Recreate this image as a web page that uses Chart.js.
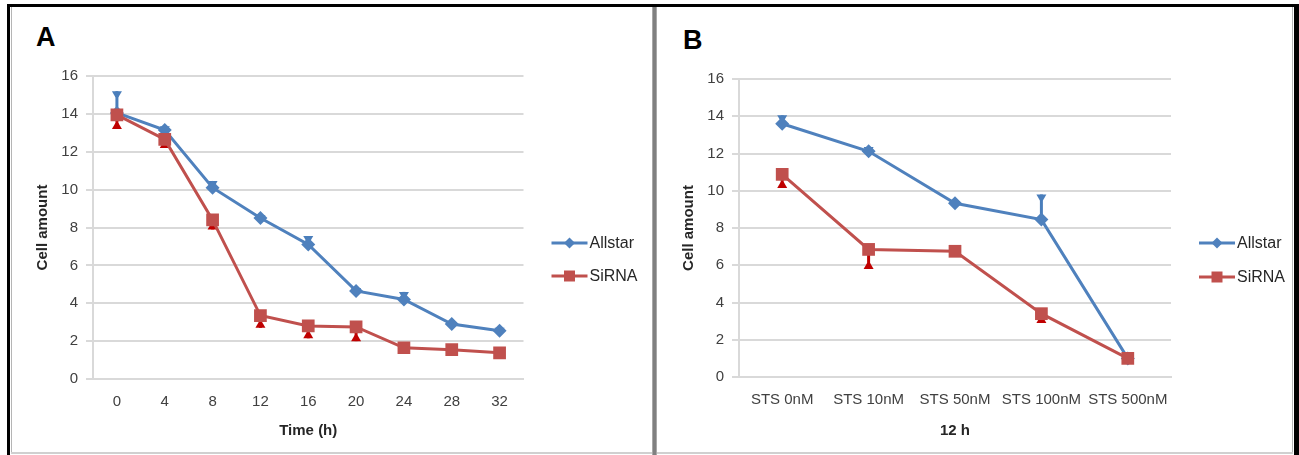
<!DOCTYPE html>
<html>
<head>
<meta charset="utf-8">
<title>Cell amount</title>
<script src="https://cdn.jsdelivr.net/npm/chart.js@4.4.1/dist/chart.umd.min.js"></script>
<style>
  body {
    margin: 0;
    width: 1299px;
    height: 455px;
    background: #fff;
    position: relative;
    overflow: hidden;
    font-family: "Liberation Sans", Arial, sans-serif;
  }
  .rule { position: absolute; }
  .tag {
    position: absolute;
    font-weight: bold;
    font-size: 27px;
    line-height: 1;
    color: #000;
  }
  canvas { position: absolute; }
</style>
</head>
<body>

<!-- frame -->
<div class="rule" style="left:7px;top:4px;width:1292px;height:3px;background:#000"></div>
<div class="rule" style="left:7px;top:4px;width:3px;height:451px;background:#000"></div>
<div class="rule" style="left:1294px;top:4px;width:5px;height:451px;background:#000"></div>
<div class="rule" style="left:11px;top:7px;width:1px;height:446px;background:#b5b5b5"></div>
<div class="rule" style="left:1292px;top:7px;width:1px;height:446px;background:#b5b5b5"></div>
<div class="rule" style="left:11px;top:452px;width:1282px;height:2px;background:#d0d0d0"></div>
<!-- divider between the two panels -->
<div class="rule" style="left:652px;top:7px;width:5px;height:448px;background:#a8a8a8"></div>
<div class="rule" style="left:653px;top:7px;width:3px;height:448px;background:#808080"></div>

<div class="tag" style="left:36px;top:24px">A</div>
<div class="tag" style="left:683px;top:27px">B</div>

<canvas id="chartA" width="638" height="444" style="left:12px;top:8px"></canvas>
<canvas id="chartB" width="634" height="444" style="left:658px;top:8px"></canvas>

<script>
// -------------------------------
// DATA
// -------------------------------
const seriesNames = ["Allstar", "SiRNA"];

// panel A: time course
const timeLabels = ["0", "4", "8", "12", "16", "20", "24", "28", "32"];
const allstarTime = [14.05, 13.15, 10.1, 8.5, 7.1, 4.65, 4.2, 2.9, 2.55];
const sirnaTime = [13.95, 12.65, 8.4, 3.35, 2.8, 2.75, 1.65, 1.55, 1.38];
// error bar ends (Allstar upward, SiRNA downward)
const allstarTimeErr = [15.2, 13.35, 10.45, 8.65, 7.55, 4.8, 4.6, 3.0, 2.7];
const sirnaTimeErr = [13.2, 12.2, 7.9, 2.7, 2.15, 2.0, 1.55, 1.35, 1.3];

// panel B: staurosporine dose at 12 h
const doseLabels = ["STS 0nM", "STS 10nM", "STS 50nM", "STS 100nM", "STS 500nM"];
const allstarDose = [13.6, 12.12, 9.33, 8.45, 1.0];
const sirnaDose = [10.88, 6.85, 6.75, 3.4, 1.0];
const allstarDoseErr = [14.05, 12.35, 9.45, 9.8, 1.0];
const sirnaDoseErr = [10.15, 5.8, 6.6, 2.9, 1.0];

const yTicks = { min: 0, max: 16, step: 2 };

// -------------------------------
// STYLE
// -------------------------------
const BLUE = "#4f81bd";
const RED = "#c0504d";
const BLUE_ERR = "#4a7ebb";
const RED_ERR = "#c00000";
const GRID = "#d9d9d9";
const FONT = "'Liberation Sans', Arial, sans-serif";

// -------------------------------
// PLUGINS
// -------------------------------
// error bars: a stem from the point to the end value plus a small wedge cap
const errorBars = {
  id: "errorBars",
  beforeDatasetsDraw(chart) {
    const ctx = chart.ctx;
    const ys = chart.scales.y;
    chart.data.datasets.forEach((ds, i) => {
      const meta = chart.getDatasetMeta(i);
      ds.errEnds.forEach((end, j) => {
        const pt = meta.data[j];
        const y0 = ys.getPixelForValue(ds.data[j]);
        const y1 = ys.getPixelForValue(end);
        if (Math.abs(y1 - y0) < 1) return;
        const dir = y1 < y0 ? 1 : -1; // cap points back to the marker
        ctx.save();
        ctx.strokeStyle = ds.errColor;
        ctx.fillStyle = ds.errColor;
        ctx.lineWidth = 3;
        ctx.beginPath();
        ctx.moveTo(pt.x, y0);
        ctx.lineTo(pt.x, y1);
        ctx.stroke();
        ctx.beginPath();
        ctx.moveTo(pt.x - 5, y1);
        ctx.lineTo(pt.x + 5, y1);
        ctx.lineTo(pt.x + 1.5, y1 + dir * 6);
        ctx.lineTo(pt.x - 1.5, y1 + dir * 6);
        ctx.closePath();
        ctx.fill();
        ctx.restore();
      });
    });
  },
};

function drawMarker(ctx, style, x, y, r, color) {
  ctx.fillStyle = color;
  ctx.beginPath();
  if (style === "rectRot") {
    ctx.moveTo(x, y - r);
    ctx.lineTo(x + r, y);
    ctx.lineTo(x, y + r);
    ctx.lineTo(x - r, y);
    ctx.closePath();
  } else {
    ctx.rect(x - r, y - r, 2 * r, 2 * r);
  }
  ctx.fill();
}

// Excel-like legend: short line with the marker in the middle
const lineLegend = {
  id: "lineLegend",
  afterDraw(chart, args, opts) {
    const ctx = chart.ctx;
    const x0 = chart.chartArea.right + opts.gap;
    ctx.save();
    chart.data.datasets.forEach((ds, i) => {
      const y = opts.rows[i];
      ctx.strokeStyle = ds.borderColor;
      ctx.lineWidth = 3;
      ctx.beginPath();
      ctx.moveTo(x0, y);
      ctx.lineTo(x0 + opts.lineLen, y);
      ctx.stroke();
      const mx = x0 + opts.lineLen / 2;
      drawMarker(ctx, ds.pointStyle, mx, y, 5.5, ds.borderColor);
      ctx.fillStyle = "#262626";
      ctx.font = "16px " + FONT;
      ctx.textAlign = "left";
      ctx.textBaseline = "middle";
      ctx.fillText(ds.label, x0 + opts.lineLen + 2, y + 1);
    });
    ctx.restore();
  },
};

// -------------------------------
// CHARTS
// -------------------------------
function makeChart(id, labels, allstar, sirna, allstarErr, sirnaErr, xTitle, area, legendRows) {
  const canvas = document.getElementById(id);
  const H = canvas.height;

  return new Chart(canvas.getContext("2d"), {
    type: "line",
    data: {
      labels: labels,
      datasets: [
        {
          label: seriesNames[0],
          data: allstar,
          errEnds: allstarErr,
          errColor: BLUE_ERR,
          borderColor: BLUE,
          backgroundColor: BLUE,
          borderWidth: 3,
          pointStyle: "rectRot",
          pointRadius: 7,
          pointBorderWidth: 0,
          tension: 0,
          order: 1,
        },
        {
          label: seriesNames[1],
          data: sirna,
          errEnds: sirnaErr,
          errColor: RED_ERR,
          borderColor: RED,
          backgroundColor: RED,
          borderWidth: 3,
          pointStyle: "rect",
          pointRadius: 9,
          pointBorderWidth: 0,
          tension: 0,
          order: 0, // red series sits on top
        },
      ],
    },
    options: {
      responsive: false,
      animation: false,
      events: [],
      layout: {
        padding: { top: area.top, left: 0, right: canvas.width - area.right, bottom: 0 },
      },
      plugins: {
        legend: { display: false },
        tooltip: { enabled: false },
        lineLegend: { gap: 28, lineLen: 36, rows: legendRows },
      },
      scales: {
        x: {
          offset: true,
          grid: { display: false, drawTicks: false },
          border: { display: true, color: GRID, width: 2 },
          ticks: {
            color: "#404040",
            font: { family: FONT, size: 15 },
            padding: 14,
            maxRotation: 0,
            autoSkip: false,
          },
          title: {
            display: true,
            text: xTitle,
            color: "#262626",
            font: { family: FONT, size: 15, weight: "bold" },
            padding: { top: 0, bottom: 12 },
          },
          afterFit: (s) => { s.height = H - area.bottom; },
        },
        y: {
          min: yTicks.min,
          max: yTicks.max,
          grid: { color: GRID, lineWidth: 2, tickLength: 7, drawTicks: true },
          border: { display: true, color: GRID, width: 2 },
          ticks: {
            stepSize: yTicks.step,
            color: "#404040",
            font: { family: FONT, size: 15 },
            padding: 8,
          },
          title: {
            display: true,
            text: "Cell amount",
            color: "#262626",
            font: { family: FONT, size: 15, weight: "bold" },
            padding: { top: 22, bottom: 0 },
          },
          afterFit: (s) => { s.width = area.left; },
        },
      },
    },
    plugins: [errorBars, lineLegend],
  });
}

makeChart("chartA", timeLabels, allstarTime, sirnaTime, allstarTimeErr, sirnaTimeErr,
  "Time (h)", { left: 81, right: 511.5, top: 68, bottom: 371 }, [235, 268]);

makeChart("chartB", doseLabels, allstarDose, sirnaDose, allstarDoseErr, sirnaDoseErr,
  "12 h", { left: 81, right: 513, top: 71, bottom: 369 }, [235, 269]);
</script>
</body>
</html>
